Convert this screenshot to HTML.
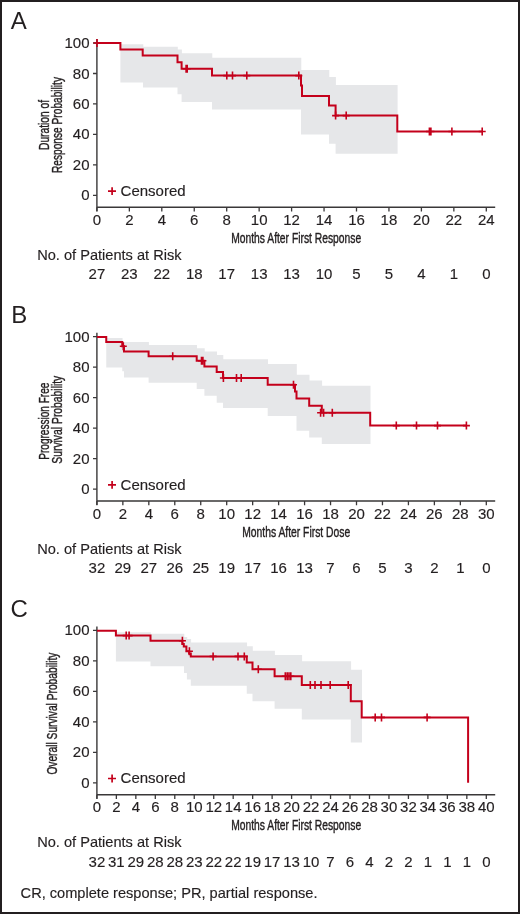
<!DOCTYPE html>
<html><head><meta charset="utf-8"><style>
html,body{margin:0;padding:0;background:#fff;width:520px;height:914px;overflow:hidden;}
svg{display:block;will-change:transform;}
text{font-family:"Liberation Sans",sans-serif;fill:#231f20;}
.t{font-size:14.6px;stroke:#231f20;stroke-width:0.15px;}
.d{font-size:15px;stroke:#231f20;stroke-width:0.15px;}
.c{font-size:14px;stroke:#231f20;stroke-width:0.4px;}
</style></head><body>
<svg width="520" height="914" viewBox="0 0 520 914">
<rect x="0" y="0" width="520" height="914" fill="#fff"/>
<g>
<path d="M120.40,44.20 H143.30 V82.50 H120.40 Z M143.00,46.80 H177.80 V87.50 H143.00 Z M177.50,49.50 H181.90 V94.20 H177.50 Z M181.60,53.30 H212.30 V102.00 H181.60 Z M212.00,57.80 H301.30 V109.50 H212.00 Z M301.00,70.00 H329.30 V134.50 H301.00 Z M329.00,77.00 H335.90 V143.80 H329.00 Z M335.60,85.00 H397.60 V153.70 H335.60 Z" fill="#e6e7e9"/>
<text x="10.7" y="28.7" style="font-size:24px">A</text>
<path d="M96.90,39.00 V211.30 M96.90,207.30 H495.2" stroke="#3a3839" stroke-width="1.4" fill="none"/>
<path d="M93,195.40 H96.90 M93,164.92 H96.90 M93,134.44 H96.90 M93,103.96 H96.90 M93,73.48 H96.90 M93,43.00 H96.90 M96.90,207.30 V211.50 M129.35,207.30 V211.50 M161.80,207.30 V211.50 M194.25,207.30 V211.50 M226.70,207.30 V211.50 M259.15,207.30 V211.50 M291.60,207.30 V211.50 M324.05,207.30 V211.50 M356.50,207.30 V211.50 M388.95,207.30 V211.50 M421.40,207.30 V211.50 M453.85,207.30 V211.50 M486.30,207.30 V211.50" stroke="#3a3839" stroke-width="1.3" fill="none"/>
<text class="d" x="89.5" y="200.4" text-anchor="end">0</text>
<text class="d" x="89.5" y="169.9" text-anchor="end">20</text>
<text class="d" x="89.5" y="139.4" text-anchor="end">40</text>
<text class="d" x="89.5" y="109.0" text-anchor="end">60</text>
<text class="d" x="89.5" y="78.5" text-anchor="end">80</text>
<text class="d" x="89.5" y="48.0" text-anchor="end">100</text>
<text class="d" x="96.90" y="224.8" text-anchor="middle">0</text>
<text class="d" x="129.35" y="224.8" text-anchor="middle">2</text>
<text class="d" x="161.80" y="224.8" text-anchor="middle">4</text>
<text class="d" x="194.25" y="224.8" text-anchor="middle">6</text>
<text class="d" x="226.70" y="224.8" text-anchor="middle">8</text>
<text class="d" x="259.15" y="224.8" text-anchor="middle">10</text>
<text class="d" x="291.60" y="224.8" text-anchor="middle">12</text>
<text class="d" x="324.05" y="224.8" text-anchor="middle">14</text>
<text class="d" x="356.50" y="224.8" text-anchor="middle">16</text>
<text class="d" x="388.95" y="224.8" text-anchor="middle">18</text>
<text class="d" x="421.40" y="224.8" text-anchor="middle">20</text>
<text class="d" x="453.85" y="224.8" text-anchor="middle">22</text>
<text class="d" x="486.30" y="224.8" text-anchor="middle">24</text>
<text class="d" x="96.90" y="279.3" text-anchor="middle">27</text>
<text class="d" x="129.35" y="279.3" text-anchor="middle">23</text>
<text class="d" x="161.80" y="279.3" text-anchor="middle">22</text>
<text class="d" x="194.25" y="279.3" text-anchor="middle">18</text>
<text class="d" x="226.70" y="279.3" text-anchor="middle">17</text>
<text class="d" x="259.15" y="279.3" text-anchor="middle">13</text>
<text class="d" x="291.60" y="279.3" text-anchor="middle">13</text>
<text class="d" x="324.05" y="279.3" text-anchor="middle">10</text>
<text class="d" x="356.50" y="279.3" text-anchor="middle">5</text>
<text class="d" x="388.95" y="279.3" text-anchor="middle">5</text>
<text class="d" x="421.40" y="279.3" text-anchor="middle">4</text>
<text class="d" x="453.85" y="279.3" text-anchor="middle">1</text>
<text class="d" x="486.30" y="279.3" text-anchor="middle">0</text>
<text class="t" x="37.2" y="260.0">No. of Patients at Risk</text>
<text class="c" x="296.2" y="242.9" text-anchor="middle" textLength="130" lengthAdjust="spacingAndGlyphs">Months After First Response</text>
<text class="c" transform="translate(48.9,125.0) rotate(-90)" x="0" y="0" text-anchor="middle" textLength="50" lengthAdjust="spacingAndGlyphs">Duration of</text>
<text class="c" transform="translate(62.3,125.0) rotate(-90)" x="0" y="0" text-anchor="middle" textLength="96" lengthAdjust="spacingAndGlyphs">Response Probability</text>
<path d="M108,191.1 H116 M112.1,187.2 V195.0" stroke="#c4001b" stroke-width="1.7" fill="none"/>
<text class="t" x="120.6" y="195.8" style="font-size:15px">Censored</text>
<path d="M97,43 H120.4 V49.4 H142.7 V55.6 H177.5 V62.3 H181.6 V68.7 H212 V75.6 H301 V85.6 H302 V96 H329 V105.6 H335.6 V115.6 H397.3 V131.5 H482.7" stroke="#c4001b" stroke-width="2" fill="none" stroke-linejoin="miter" stroke-linecap="butt"/>
<path d="M97.00,39.00 V47.00 M93.50,43.00 H100.50 M186.10,64.70 V72.70 M182.60,68.70 H189.60 M187.20,64.70 V72.70 M183.70,68.70 H190.70 M226.80,71.60 V79.60 M223.30,75.60 H230.30 M232.50,71.60 V79.60 M229.00,75.60 H236.00 M246.80,71.60 V79.60 M243.30,75.60 H250.30 M298.80,71.60 V79.60 M295.30,75.60 H302.30 M335.60,111.60 V119.60 M332.10,115.60 H339.10 M346.20,111.60 V119.60 M342.70,115.60 H349.70 M429.40,127.50 V135.50 M425.90,131.50 H432.90 M430.90,127.50 V135.50 M427.40,131.50 H434.40 M451.90,127.50 V135.50 M448.40,131.50 H455.40 M482.20,127.50 V135.50 M478.70,131.50 H485.70" stroke="#c4001b" stroke-width="1.6" fill="none"/>
</g>
<g>
<path d="M106.25,338.10 H122.55 V367.50 H106.25 Z M122.25,342.10 H124.30 V371.30 H122.25 Z M124.00,342.10 H148.90 V377.50 H124.00 Z M148.60,345.00 H197.00 V382.70 H148.60 Z M196.70,348.30 H204.70 V389.00 H196.70 Z M204.40,351.50 H217.00 V395.80 H204.40 Z M216.70,355.00 H223.30 V402.70 H216.70 Z M223.00,359.30 H268.00 V408.00 H223.00 Z M267.70,364.00 H296.80 V416.00 H267.70 Z M296.50,374.80 H309.50 V430.80 H296.50 Z M309.20,380.50 H322.10 V437.50 H309.20 Z M321.80,385.80 H370.50 V444.10 H321.80 Z" fill="#e6e7e9"/>
<text x="11.3" y="322.6" style="font-size:24px">B</text>
<path d="M96.90,332.70 V505.00 M96.90,501.00 H495.2" stroke="#3a3839" stroke-width="1.4" fill="none"/>
<path d="M93,489.10 H96.90 M93,458.62 H96.90 M93,428.14 H96.90 M93,397.66 H96.90 M93,367.18 H96.90 M93,336.70 H96.90 M96.90,501.00 V505.20 M122.86,501.00 V505.20 M148.82,501.00 V505.20 M174.78,501.00 V505.20 M200.74,501.00 V505.20 M226.70,501.00 V505.20 M252.66,501.00 V505.20 M278.62,501.00 V505.20 M304.58,501.00 V505.20 M330.54,501.00 V505.20 M356.50,501.00 V505.20 M382.46,501.00 V505.20 M408.42,501.00 V505.20 M434.38,501.00 V505.20 M460.34,501.00 V505.20 M486.30,501.00 V505.20" stroke="#3a3839" stroke-width="1.3" fill="none"/>
<text class="d" x="89.5" y="494.1" text-anchor="end">0</text>
<text class="d" x="89.5" y="463.6" text-anchor="end">20</text>
<text class="d" x="89.5" y="433.1" text-anchor="end">40</text>
<text class="d" x="89.5" y="402.7" text-anchor="end">60</text>
<text class="d" x="89.5" y="372.2" text-anchor="end">80</text>
<text class="d" x="89.5" y="341.7" text-anchor="end">100</text>
<text class="d" x="96.90" y="518.5" text-anchor="middle">0</text>
<text class="d" x="122.86" y="518.5" text-anchor="middle">2</text>
<text class="d" x="148.82" y="518.5" text-anchor="middle">4</text>
<text class="d" x="174.78" y="518.5" text-anchor="middle">6</text>
<text class="d" x="200.74" y="518.5" text-anchor="middle">8</text>
<text class="d" x="226.70" y="518.5" text-anchor="middle">10</text>
<text class="d" x="252.66" y="518.5" text-anchor="middle">12</text>
<text class="d" x="278.62" y="518.5" text-anchor="middle">14</text>
<text class="d" x="304.58" y="518.5" text-anchor="middle">16</text>
<text class="d" x="330.54" y="518.5" text-anchor="middle">18</text>
<text class="d" x="356.50" y="518.5" text-anchor="middle">20</text>
<text class="d" x="382.46" y="518.5" text-anchor="middle">22</text>
<text class="d" x="408.42" y="518.5" text-anchor="middle">24</text>
<text class="d" x="434.38" y="518.5" text-anchor="middle">26</text>
<text class="d" x="460.34" y="518.5" text-anchor="middle">28</text>
<text class="d" x="486.30" y="518.5" text-anchor="middle">30</text>
<text class="d" x="96.90" y="573.0" text-anchor="middle">32</text>
<text class="d" x="122.86" y="573.0" text-anchor="middle">29</text>
<text class="d" x="148.82" y="573.0" text-anchor="middle">27</text>
<text class="d" x="174.78" y="573.0" text-anchor="middle">26</text>
<text class="d" x="200.74" y="573.0" text-anchor="middle">25</text>
<text class="d" x="226.70" y="573.0" text-anchor="middle">19</text>
<text class="d" x="252.66" y="573.0" text-anchor="middle">17</text>
<text class="d" x="278.62" y="573.0" text-anchor="middle">16</text>
<text class="d" x="304.58" y="573.0" text-anchor="middle">13</text>
<text class="d" x="330.54" y="573.0" text-anchor="middle">7</text>
<text class="d" x="356.50" y="573.0" text-anchor="middle">6</text>
<text class="d" x="382.46" y="573.0" text-anchor="middle">5</text>
<text class="d" x="408.42" y="573.0" text-anchor="middle">3</text>
<text class="d" x="434.38" y="573.0" text-anchor="middle">2</text>
<text class="d" x="460.34" y="573.0" text-anchor="middle">1</text>
<text class="d" x="486.30" y="573.0" text-anchor="middle">0</text>
<text class="t" x="37.2" y="553.7">No. of Patients at Risk</text>
<text class="c" x="296.2" y="536.6" text-anchor="middle" textLength="108" lengthAdjust="spacingAndGlyphs">Months After First Dose</text>
<text class="c" transform="translate(48.9,421.2) rotate(-90)" x="0" y="0" text-anchor="middle" textLength="77" lengthAdjust="spacingAndGlyphs">Progression Free</text>
<text class="c" transform="translate(62.3,419.7) rotate(-90)" x="0" y="0" text-anchor="middle" textLength="88" lengthAdjust="spacingAndGlyphs">Survival Probability</text>
<path d="M108,484.8 H116 M112.1,480.9 V488.7" stroke="#c4001b" stroke-width="1.7" fill="none"/>
<text class="t" x="120.6" y="489.5" style="font-size:15px">Censored</text>
<path d="M97,336.9 H106.25 V341.9 H122.25 V346.25 H124 V351.5 H148.6 V356.3 H196.7 V360.8 H204.4 V366.5 H216.7 V371.9 H223 V378 H267.7 V384.7 H295 V391.5 H296.5 V398.5 H309.2 V405.7 H321.8 V412.8 H370.2 V425.6 H466.4" stroke="#c4001b" stroke-width="2" fill="none" stroke-linejoin="miter" stroke-linecap="butt"/>
<path d="M123.30,342.25 V350.25 M119.80,346.25 H126.80 M172.70,352.30 V360.30 M169.20,356.30 H176.20 M201.50,356.80 V364.80 M198.00,360.80 H205.00 M202.90,356.80 V364.80 M199.40,360.80 H206.40 M223.40,374.00 V382.00 M219.90,378.00 H226.90 M236.50,374.00 V382.00 M233.00,378.00 H240.00 M241.20,374.00 V382.00 M237.70,378.00 H244.70 M293.50,380.70 V388.70 M290.00,384.70 H297.00 M320.60,408.80 V416.80 M317.10,412.80 H324.10 M323.60,408.80 V416.80 M320.10,412.80 H327.10 M332.30,408.80 V416.80 M328.80,412.80 H335.80 M396.30,421.60 V429.60 M392.80,425.60 H399.80 M416.50,421.60 V429.60 M413.00,425.60 H420.00 M437.50,421.60 V429.60 M434.00,425.60 H441.00 M466.40,421.60 V429.60 M462.90,425.60 H469.90" stroke="#c4001b" stroke-width="1.6" fill="none"/>
</g>
<g>
<path d="M115.90,632.20 H150.80 V661.40 H115.90 Z M150.50,633.80 H184.30 V666.30 H150.50 Z M184.00,637.00 H187.20 V673.00 H184.00 Z M186.90,639.00 H191.10 V679.40 H186.90 Z M190.80,642.40 H247.05 V685.70 H190.80 Z M246.75,646.30 H252.80 V693.80 H246.75 Z M252.50,650.80 H274.90 V701.20 H252.50 Z M274.60,655.00 H302.10 V708.80 H274.60 Z M301.80,661.20 H351.10 V719.50 H301.80 Z M350.80,669.80 H362.00 V742.60 H350.80 Z" fill="#e6e7e9"/>
<text x="10.6" y="616.6" style="font-size:24px">C</text>
<path d="M96.90,626.40 V798.70 M96.90,794.70 H495.2" stroke="#3a3839" stroke-width="1.4" fill="none"/>
<path d="M93,782.80 H96.90 M93,752.32 H96.90 M93,721.84 H96.90 M93,691.36 H96.90 M93,660.88 H96.90 M93,630.40 H96.90 M96.90,794.70 V798.90 M116.37,794.70 V798.90 M135.84,794.70 V798.90 M155.31,794.70 V798.90 M174.78,794.70 V798.90 M194.25,794.70 V798.90 M213.72,794.70 V798.90 M233.19,794.70 V798.90 M252.66,794.70 V798.90 M272.13,794.70 V798.90 M291.60,794.70 V798.90 M311.07,794.70 V798.90 M330.54,794.70 V798.90 M350.01,794.70 V798.90 M369.48,794.70 V798.90 M388.95,794.70 V798.90 M408.42,794.70 V798.90 M427.89,794.70 V798.90 M447.36,794.70 V798.90 M466.83,794.70 V798.90 M486.30,794.70 V798.90" stroke="#3a3839" stroke-width="1.3" fill="none"/>
<text class="d" x="89.5" y="787.8" text-anchor="end">0</text>
<text class="d" x="89.5" y="757.3" text-anchor="end">20</text>
<text class="d" x="89.5" y="726.8" text-anchor="end">40</text>
<text class="d" x="89.5" y="696.4" text-anchor="end">60</text>
<text class="d" x="89.5" y="665.9" text-anchor="end">80</text>
<text class="d" x="89.5" y="635.4" text-anchor="end">100</text>
<text class="d" x="96.90" y="812.2" text-anchor="middle">0</text>
<text class="d" x="116.37" y="812.2" text-anchor="middle">2</text>
<text class="d" x="135.84" y="812.2" text-anchor="middle">4</text>
<text class="d" x="155.31" y="812.2" text-anchor="middle">6</text>
<text class="d" x="174.78" y="812.2" text-anchor="middle">8</text>
<text class="d" x="194.25" y="812.2" text-anchor="middle">10</text>
<text class="d" x="213.72" y="812.2" text-anchor="middle">12</text>
<text class="d" x="233.19" y="812.2" text-anchor="middle">14</text>
<text class="d" x="252.66" y="812.2" text-anchor="middle">16</text>
<text class="d" x="272.13" y="812.2" text-anchor="middle">18</text>
<text class="d" x="291.60" y="812.2" text-anchor="middle">20</text>
<text class="d" x="311.07" y="812.2" text-anchor="middle">22</text>
<text class="d" x="330.54" y="812.2" text-anchor="middle">24</text>
<text class="d" x="350.01" y="812.2" text-anchor="middle">26</text>
<text class="d" x="369.48" y="812.2" text-anchor="middle">28</text>
<text class="d" x="388.95" y="812.2" text-anchor="middle">30</text>
<text class="d" x="408.42" y="812.2" text-anchor="middle">32</text>
<text class="d" x="427.89" y="812.2" text-anchor="middle">34</text>
<text class="d" x="447.36" y="812.2" text-anchor="middle">36</text>
<text class="d" x="466.83" y="812.2" text-anchor="middle">38</text>
<text class="d" x="486.30" y="812.2" text-anchor="middle">40</text>
<text class="d" x="96.90" y="866.7" text-anchor="middle">32</text>
<text class="d" x="116.37" y="866.7" text-anchor="middle">31</text>
<text class="d" x="135.84" y="866.7" text-anchor="middle">29</text>
<text class="d" x="155.31" y="866.7" text-anchor="middle">28</text>
<text class="d" x="174.78" y="866.7" text-anchor="middle">28</text>
<text class="d" x="194.25" y="866.7" text-anchor="middle">23</text>
<text class="d" x="213.72" y="866.7" text-anchor="middle">22</text>
<text class="d" x="233.19" y="866.7" text-anchor="middle">22</text>
<text class="d" x="252.66" y="866.7" text-anchor="middle">19</text>
<text class="d" x="272.13" y="866.7" text-anchor="middle">17</text>
<text class="d" x="291.60" y="866.7" text-anchor="middle">13</text>
<text class="d" x="311.07" y="866.7" text-anchor="middle">10</text>
<text class="d" x="330.54" y="866.7" text-anchor="middle">7</text>
<text class="d" x="350.01" y="866.7" text-anchor="middle">6</text>
<text class="d" x="369.48" y="866.7" text-anchor="middle">4</text>
<text class="d" x="388.95" y="866.7" text-anchor="middle">2</text>
<text class="d" x="408.42" y="866.7" text-anchor="middle">2</text>
<text class="d" x="427.89" y="866.7" text-anchor="middle">1</text>
<text class="d" x="447.36" y="866.7" text-anchor="middle">1</text>
<text class="d" x="466.83" y="866.7" text-anchor="middle">1</text>
<text class="d" x="486.30" y="866.7" text-anchor="middle">0</text>
<text class="t" x="37.2" y="847.4">No. of Patients at Risk</text>
<text class="c" x="296.2" y="830.3" text-anchor="middle" textLength="130" lengthAdjust="spacingAndGlyphs">Months After First Response</text>
<text class="c" transform="translate(56.6,713.6) rotate(-90)" x="0" y="0" text-anchor="middle" textLength="122" lengthAdjust="spacingAndGlyphs">Overall Survival Probability</text>
<path d="M108,778.5 H116 M112.1,774.6 V782.4" stroke="#c4001b" stroke-width="1.7" fill="none"/>
<text class="t" x="120.6" y="783.2" style="font-size:15px">Censored</text>
<path d="M97,630.7 H115.9 V635.6 H150.5 V640.8 H182.4 V644 H183.8 V646.4 H186.4 V651.2 H189.1 V653.6 H190.8 V656.4 H246.75 V662.5 H252.5 V669.25 H274.6 V676.2 H301.8 V684.9 H350.8 V701.3 H361.7 V717.4 H468.1 V782.7" stroke="#c4001b" stroke-width="2" fill="none" stroke-linejoin="miter" stroke-linecap="butt"/>
<path d="M126.20,631.60 V639.60 M122.70,635.60 H129.70 M129.10,631.60 V639.60 M125.60,635.60 H132.60 M182.40,636.80 V644.80 M178.90,640.80 H185.90 M189.40,647.20 V655.20 M185.90,651.20 H192.90 M213.10,652.40 V660.40 M209.60,656.40 H216.60 M238.00,652.40 V660.40 M234.50,656.40 H241.50 M244.30,652.40 V660.40 M240.80,656.40 H247.80 M258.30,665.25 V673.25 M254.80,669.25 H261.80 M285.30,672.20 V680.20 M281.80,676.20 H288.80 M287.20,672.20 V680.20 M283.70,676.20 H290.70 M289.00,672.20 V680.20 M285.50,676.20 H292.50 M290.80,672.20 V680.20 M287.30,676.20 H294.30 M310.30,680.90 V688.90 M306.80,684.90 H313.80 M315.00,680.90 V688.90 M311.50,684.90 H318.50 M321.00,680.90 V688.90 M317.50,684.90 H324.50 M330.20,680.90 V688.90 M326.70,684.90 H333.70 M348.20,680.90 V688.90 M344.70,684.90 H351.70 M375.20,713.40 V721.40 M371.70,717.40 H378.70 M381.50,713.40 V721.40 M378.00,717.40 H385.00 M427.10,713.40 V721.40 M423.60,717.40 H430.60" stroke="#c4001b" stroke-width="1.6" fill="none"/>
</g>
<text class="t" x="20.6" y="897.5">CR, complete response; PR, partial response.</text>
<rect x="1" y="1" width="518" height="912" fill="none" stroke="#231f20" stroke-width="2"/>
</svg>
</body></html>
